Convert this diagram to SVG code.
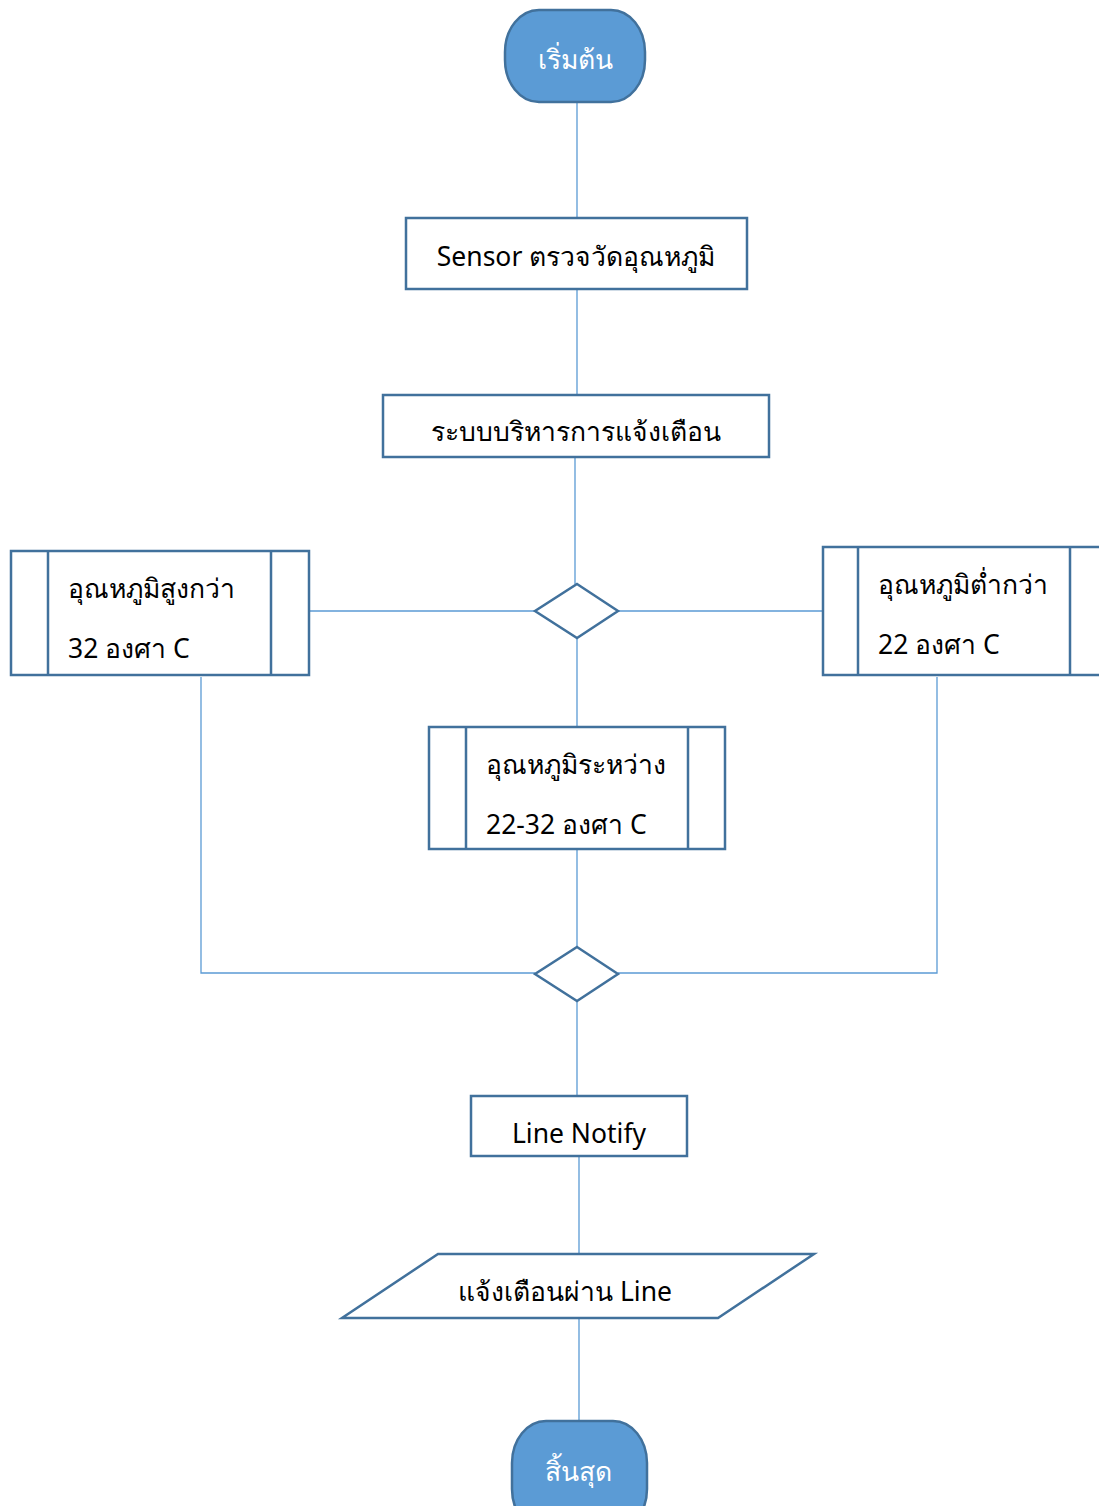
<svg xmlns="http://www.w3.org/2000/svg" width="1099" height="1506" viewBox="0 0 1099 1506">
<style>
.box{fill:#fff;stroke:#41719C;stroke-width:2.5}
.term{fill:#5B9BD5;stroke:#41719C;stroke-width:2.5}
.con{fill:none;stroke:#5B9BD5;stroke-width:1.3}
text{font-family:"Noto Sans","DejaVu Sans",sans-serif;font-size:26.5px;fill:#000}
.w{fill:#fff}
</style>
<rect width="1099" height="1506" fill="#fff"/>
<g id="connectors">
<path class="con" d="M577 102V218M577 289V395M575 457V584M309 611H535M618 611H823M577 638V727M201 677V973H535M937 677V973H618M577 849V947M577 1001V1096M579 1156V1254M579 1318V1421"/>
</g>
<g id="start">
<rect class="term" x="505" y="10" width="140" height="92" rx="34" ry="42"/>
<text class="w" x="575" y="69" text-anchor="middle">เริ่มต้น</text>
</g>
<g id="sensor">
<rect class="box" x="406" y="218" width="341" height="71"/>
<text x="576" y="266" text-anchor="middle">Sensor ตรวจวัดอุณหภูมิ</text>
</g>
<g id="system">
<rect class="box" x="383" y="395" width="386" height="62"/>
<text x="576" y="441" text-anchor="middle">ระบบบริหารการแจ้งเตือน</text>
</g>
<g id="decision1">
<polygon class="box" points="577,584 618,611 577,638 535,611"/>
</g>
<g id="high">
<rect class="box" x="11" y="551" width="298" height="124"/>
<path class="box" d="M48 551V675M271 551V675"/>
<text x="68" y="598">อุณหภูมิสูงกว่า</text>
<text x="68" y="658">32 องศา C</text>
</g>
<g id="low">
<rect class="box" x="823" y="547" width="284" height="128"/>
<path class="box" d="M858 547V675M1070 547V675"/>
<text x="878" y="594">อุณหภูมิต่ำกว่า</text>
<text x="878" y="654">22 องศา C</text>
</g>
<g id="between">
<rect class="box" x="429" y="727" width="296" height="122"/>
<path class="box" d="M466 727V849M688 727V849"/>
<text x="486" y="774">อุณหภูมิระหว่าง</text>
<text x="486" y="834">22-32 องศา C</text>
</g>
<g id="decision2">
<polygon class="box" points="577,947 618,974 577,1001 535,974"/>
</g>
<g id="line">
<rect class="box" x="471" y="1096" width="216" height="60"/>
<text x="579" y="1143" text-anchor="middle">Line Notify</text>
</g>
<g id="notify">
<polygon class="box" points="438,1254 814,1254 718,1318 342,1318"/>
<text x="565" y="1301" text-anchor="middle">แจ้งเตือนผ่าน Line</text>
</g>
<g id="end">
<rect class="term" x="512" y="1421" width="135" height="110" rx="34" ry="42"/>
<text class="w" x="578" y="1481" text-anchor="middle">สิ้นสุด</text>
</g>
</svg>
